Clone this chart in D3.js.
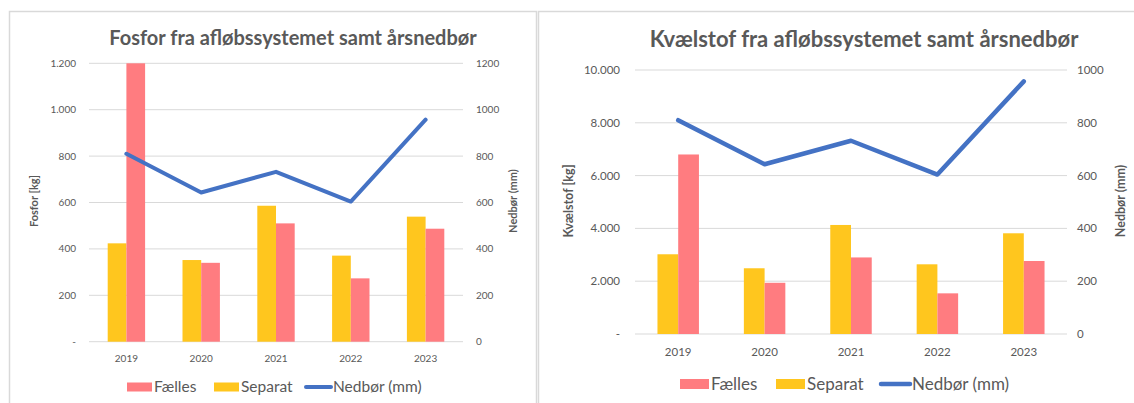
<!DOCTYPE html>
<html>
<head>
<meta charset="utf-8">
<script src="https://cdn.jsdelivr.net/npm/d3@7"></script>
<style>
  body { margin: 0; background: #fff; }
  svg text { font-family: Lato, "Open Sans", sans-serif; }
</style>
</head>
<body>
<svg id="chart" width="1134" height="403"></svg>
<script>
const years = ["2019", "2020", "2021", "2022", "2023"];
const seriesNames = ["Separat", "Fælles"];
const fosforFaelles = [1200, 340, 510, 273, 487];
const fosforSeparat = [424, 352, 586, 371, 539];
const kvaelstofFaelles = [6800, 1940, 2900, 1540, 2765];
const kvaelstofSeparat = [3020, 2490, 4130, 2640, 3815];
const nedboer = [810, 643, 732, 604, 957];
const fosforTicks = [0, 200, 400, 600, 800, 1000, 1200];
const fosforRainTicks = [0, 200, 400, 600, 800, 1000, 1200];
const kvaelstofTicks = [0, 2000, 4000, 6000, 8000, 10000];
const kvaelstofRainTicks = [0, 200, 400, 600, 800, 1000];

const colors = { "Fælles": "#ff7c80", "Separat": "#ffc61e", line: "#4472c4" };
const textGray = "#595959";

const dk = d3.formatLocale({ decimal: ",", thousands: ".", grouping: [3], currency: ["", " kr."] });
const leftFmt = function(d) { return d === 0 ? "-" : dk.format(",")(d); };

const svg = d3.select("#chart");

function drawChart(cfg) {
  const g = svg.append("g");

  // frame
  g.append("rect")
    .attr("x", cfg.box[0]).attr("y", cfg.box[1])
    .attr("width", cfg.box[2]).attr("height", cfg.box[3])
    .attr("fill", "none").attr("stroke", "#d9d9d9").attr("stroke-width", 1.5);

  const x = d3.scaleBand().domain(years).range([cfg.left, cfg.right]).padding(0);
  const xs = d3.scaleBand().domain(seriesNames)
    .range([x.bandwidth() * cfg.gap, x.bandwidth() * (1 - cfg.gap)]);
  const y = d3.scaleLinear().domain([0, d3.max(cfg.ticks)]).range([cfg.bottom, cfg.top]);
  const y2 = d3.scaleLinear().domain([0, d3.max(cfg.rainTicks)]).range([cfg.bottom, cfg.top]);

  // gridlines
  g.append("g").selectAll("line").data(cfg.ticks).enter().append("line")
    .attr("x1", cfg.left).attr("x2", cfg.right)
    .attr("y1", function(d) { return y(d); }).attr("y2", function(d) { return y(d); })
    .attr("stroke", "#d9d9d9").attr("stroke-width", 1);

  // left axis labels
  g.append("g").selectAll("text").data(cfg.ticks).enter().append("text")
    .attr("x", cfg.leftLabelX).attr("y", function(d) { return y(d); })
    .attr("dy", "0.35em").attr("text-anchor", "end")
    .attr("fill", textGray).style("font-size", cfg.tickSize + "px")
    .text(leftFmt);

  // right axis labels
  g.append("g").selectAll("text").data(cfg.rainTicks).enter().append("text")
    .attr("x", cfg.rightLabelX).attr("y", function(d) { return y2(d); })
    .attr("dy", "0.35em").attr("text-anchor", "start")
    .attr("fill", textGray).style("font-size", cfg.tickSize + "px")
    .text(function(d) { return d; });

  // x labels
  g.append("g").selectAll("text").data(years).enter().append("text")
    .attr("x", function(d) { return x(d) + x.bandwidth() / 2; })
    .attr("y", cfg.xLabelY).attr("dy", "0.35em").attr("text-anchor", "middle")
    .attr("fill", textGray).style("font-size", cfg.tickSize + "px")
    .text(function(d) { return d; });

  // bars
  const rows = years.map(function(yr, i) {
    return { year: yr, "Separat": cfg.separat[i], "Fælles": cfg.faelles[i] };
  });
  g.append("g").selectAll("g").data(rows).enter().append("g")
    .attr("transform", function(d) { return "translate(" + x(d.year) + ",0)"; })
    .selectAll("rect")
    .data(function(d) { return seriesNames.map(function(k) { return { key: k, value: d[k] }; }); })
    .enter().append("rect")
      .attr("x", function(d) { return xs(d.key); })
      .attr("width", xs.bandwidth())
      .attr("y", function(d) { return y(d.value); })
      .attr("height", function(d) { return y(0) - y(d.value); })
      .attr("fill", function(d) { return colors[d.key]; });

  // rainfall line
  const line = d3.line()
    .x(function(d, i) { return x(years[i]) + x.bandwidth() / 2; })
    .y(function(d) { return y2(d); });
  g.append("path").datum(nedboer)
    .attr("d", line).attr("fill", "none")
    .attr("stroke", colors.line).attr("stroke-width", cfg.lineWidth)
    .attr("stroke-linejoin", "round").attr("stroke-linecap", "round");

  // title
  g.append("text")
    .attr("x", cfg.titleX).attr("y", cfg.titleY).attr("dy", "0.35em")
    .attr("text-anchor", "middle").attr("fill", textGray)
    .style("font-size", cfg.titleSize + "px").style("font-weight", "bold")
    .text(cfg.title);

  // axis titles
  g.append("text")
    .attr("transform", "translate(" + cfg.yTitleX + "," + cfg.yTitleY + ") rotate(-90)")
    .attr("dy", "0.35em").attr("text-anchor", "middle").attr("fill", textGray)
    .style("font-size", cfg.axisTitleSize + "px").style("font-weight", "bold")
    .text(cfg.yTitle);
  g.append("text")
    .attr("transform", "translate(" + cfg.y2TitleX + "," + cfg.yTitleY + ") rotate(-90)")
    .attr("dy", "0.35em").attr("text-anchor", "middle").attr("fill", textGray)
    .style("font-size", cfg.axisTitleSize + "px").style("font-weight", "bold")
    .text("Nedbør (mm)");

  // legend
  const leg = g.append("g");
  const items = [
    { name: "Fælles", type: "rect" },
    { name: "Separat", type: "rect" },
    { name: "Nedbør (mm)", type: "line" }
  ];
  items.forEach(function(it, i) {
    const lx = cfg.legendX[i];
    if (it.type === "rect") {
      leg.append("rect")
        .attr("x", lx).attr("y", cfg.legendY - cfg.swatchH / 2)
        .attr("width", cfg.swatchW).attr("height", cfg.swatchH)
        .attr("fill", colors[it.name]);
    } else {
      leg.append("line")
        .attr("x1", lx).attr("x2", lx + cfg.swatchW)
        .attr("y1", cfg.legendY).attr("y2", cfg.legendY)
        .attr("stroke", colors.line).attr("stroke-width", cfg.lineWidth)
        .attr("stroke-linecap", "round");
    }
    leg.append("text")
      .attr("x", lx + cfg.swatchW + 2).attr("y", cfg.legendY).attr("dy", "0.35em")
      .attr("fill", textGray).style("font-size", cfg.legendSize + "px")
      .text(it.name);
  });
}

drawChart({
  box: [9.5, 11.5, 527, 420],
  left: 89, right: 463, top: 63.3, bottom: 341.7,
  gap: 0.25,
  ticks: fosforTicks, rainTicks: fosforRainTicks,
  faelles: fosforFaelles, separat: fosforSeparat,
  leftLabelX: 76, rightLabelX: 476, xLabelY: 358, tickSize: 10,
  lineWidth: 4,
  title: "Fosfor fra afløbssystemet samt årsnedbør", titleX: 293, titleY: 38, titleSize: 20,
  yTitle: "Fosfor [kg]", yTitleX: 34, y2TitleX: 513, yTitleY: 201, axisTitleSize: 11,
  legendX: [127, 214, 306], legendY: 387, swatchW: 25, swatchH: 9, legendSize: 15.5
});

drawChart({
  box: [538.5, 11.5, 620, 420],
  left: 635, right: 1067, top: 70, bottom: 334,
  gap: 0.26,
  ticks: kvaelstofTicks, rainTicks: kvaelstofRainTicks,
  faelles: kvaelstofFaelles, separat: kvaelstofSeparat,
  leftLabelX: 620, rightLabelX: 1077, xLabelY: 352, tickSize: 11.5,
  lineWidth: 4.5,
  title: "Kvælstof fra afløbssystemet samt årsnedbør", titleX: 864, titleY: 39, titleSize: 22,
  yTitle: "Kvælstof [kg]", yTitleX: 569, y2TitleX: 1121, yTitleY: 201, axisTitleSize: 12.5,
  legendX: [680, 776, 881], legendY: 384, swatchW: 29, swatchH: 10, legendSize: 17
});
</script>
</body>
</html>
